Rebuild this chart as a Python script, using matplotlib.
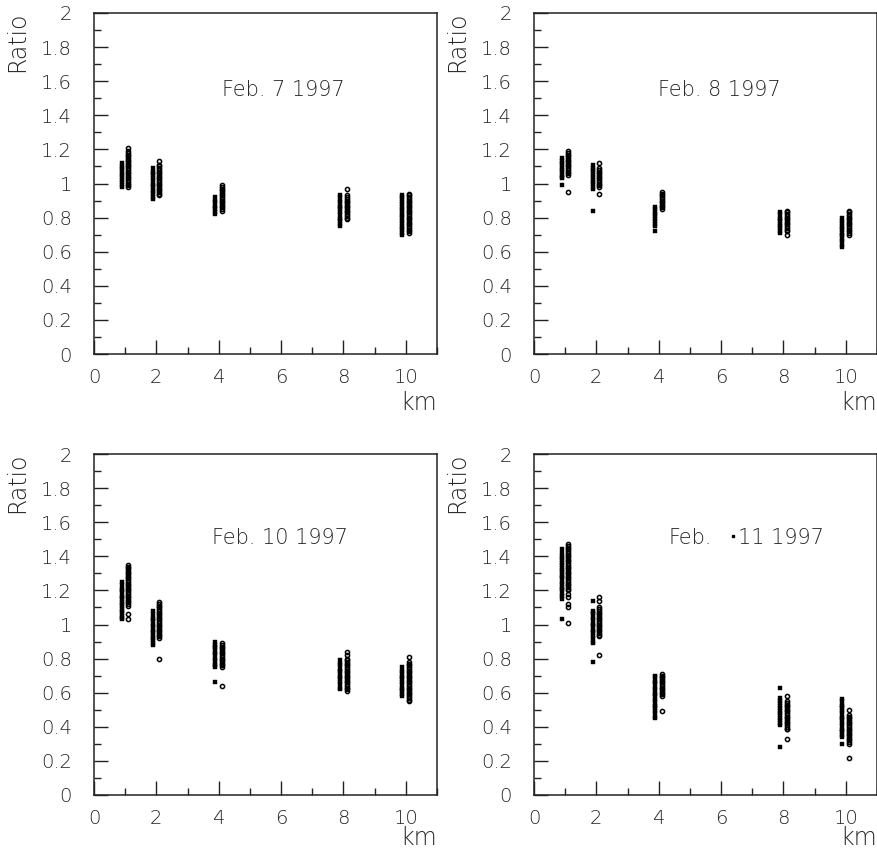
import matplotlib
matplotlib.use("Agg")
import matplotlib.pyplot as plt
from matplotlib.ticker import MultipleLocator

plt.rcParams['font.family'] = ['DejaVu Sans']
plt.rcParams['font.weight'] = 'light'

# ---------------- data ----------------
distances = [1, 2, 4, 8, 10]
dates = ["Feb. 7 1997", "Feb. 8 1997", "Feb. 10 1997", "Feb."]
date_extra = "11 1997"
xticks = [0, 2, 4, 6, 8, 10]
xtick_labels = ["0", "2", "4", "6", "8", "10"]
yticks = [0, 0.2, 0.4, 0.6, 0.8, 1.0, 1.2, 1.4, 1.6, 1.8, 2.0]
ytick_labels = ["0", "0.2", "0.4", "0.6", "0.8", "1", "1.2", "1.4", "1.6", "1.8", "2"]

# square-marker series (one list per distance)
feb7_sq = [
    [0.98, 0.99, 1.01, 1.02, 1.04, 1.05, 1.06, 1.08, 1.09, 1.10, 1.12],
    [0.91, 0.92, 0.94, 0.95, 0.96, 0.98, 0.99, 1.00, 1.02, 1.03, 1.05, 1.06, 1.07, 1.09],
    [0.82, 0.83, 0.85, 0.86, 0.87, 0.89, 0.90, 0.92],
    [0.75, 0.76, 0.78, 0.79, 0.80, 0.82, 0.83, 0.85, 0.86, 0.87, 0.89, 0.90, 0.92, 0.93],
    [0.70, 0.71, 0.73, 0.74, 0.75, 0.77, 0.78, 0.80, 0.81, 0.82, 0.84, 0.85, 0.86, 0.88,
     0.89, 0.91, 0.92, 0.93],
]
feb7_ci = [
    [0.98, 0.99, 1.00, 1.01, 1.02, 1.03, 1.04, 1.05, 1.06, 1.07, 1.08, 1.09, 1.10, 1.11,
     1.12, 1.13, 1.14, 1.15, 1.16, 1.17, 1.18, 1.19, 1.21],
    [0.93, 0.94, 0.95, 0.96, 0.97, 0.98, 0.99, 1.00, 1.01, 1.02, 1.03, 1.04, 1.05, 1.06,
     1.07, 1.08, 1.09, 1.10, 1.11, 1.13],
    [0.84, 0.85, 0.86, 0.87, 0.88, 0.89, 0.90, 0.91, 0.92, 0.93, 0.94, 0.95, 0.96, 0.97,
     0.98, 0.99],
    [0.79, 0.80, 0.81, 0.82, 0.83, 0.84, 0.85, 0.86, 0.87, 0.88, 0.89, 0.90, 0.91, 0.92,
     0.93, 0.97],
    [0.71, 0.72, 0.73, 0.74, 0.75, 0.76, 0.77, 0.78, 0.79, 0.80, 0.81, 0.82, 0.83, 0.84,
     0.85, 0.86, 0.87, 0.88, 0.89, 0.90, 0.91, 0.92, 0.93, 0.94],
]
feb8_sq = [
    [0.99, 1.03, 1.04, 1.05, 1.07, 1.08, 1.09, 1.11, 1.12, 1.13, 1.15],
    [0.84, 0.97, 0.98, 1.00, 1.01, 1.02, 1.04, 1.05, 1.07, 1.08, 1.09, 1.11],
    [0.72, 0.75, 0.76, 0.78, 0.79, 0.81, 0.82, 0.83, 0.85, 0.86],
    [0.71, 0.72, 0.74, 0.75, 0.76, 0.78, 0.79, 0.80, 0.82, 0.83],
    [0.63, 0.64, 0.66, 0.67, 0.69, 0.70, 0.71, 0.73, 0.74, 0.75, 0.77, 0.78, 0.80],
]
feb8_ci = [
    [0.95, 1.05, 1.06, 1.07, 1.08, 1.09, 1.10, 1.11, 1.12, 1.13, 1.14, 1.15, 1.16, 1.17,
     1.18, 1.19],
    [0.94, 0.98, 0.99, 1.00, 1.01, 1.02, 1.03, 1.04, 1.05, 1.06, 1.07, 1.08, 1.09, 1.12],
    [0.85, 0.86, 0.87, 0.88, 0.89, 0.90, 0.91, 0.92, 0.93, 0.94, 0.95],
    [0.70, 0.72, 0.73, 0.74, 0.75, 0.76, 0.77, 0.78, 0.79, 0.80, 0.81, 0.82, 0.83, 0.84],
    [0.70, 0.71, 0.72, 0.73, 0.74, 0.75, 0.76, 0.77, 0.78, 0.79, 0.80, 0.81, 0.82, 0.83,
     0.84],
]
feb10_sq = [
    [1.03, 1.04, 1.05, 1.07, 1.08, 1.09, 1.11, 1.12, 1.13, 1.15, 1.16, 1.17, 1.19, 1.20,
     1.21, 1.23, 1.25],
    [0.88, 0.89, 0.91, 0.92, 0.93, 0.95, 0.96, 0.97, 0.99, 1.00, 1.02, 1.03, 1.04, 1.06, 1.08],
    [0.66, 0.75, 0.76, 0.77, 0.79, 0.80, 0.82, 0.83, 0.84, 0.86, 0.87, 0.88, 0.90],
    [0.62, 0.63, 0.65, 0.66, 0.68, 0.69, 0.70, 0.72, 0.73, 0.74, 0.76, 0.77, 0.79],
    [0.58, 0.59, 0.61, 0.62, 0.63, 0.65, 0.66, 0.68, 0.69, 0.70, 0.72, 0.73, 0.75],
]
feb10_ci = [
    [1.03, 1.06, 1.11, 1.12, 1.13, 1.14, 1.15, 1.16, 1.17, 1.18, 1.19, 1.20, 1.21, 1.22,
     1.23, 1.24, 1.25, 1.26, 1.27, 1.28, 1.29, 1.30, 1.31, 1.32, 1.33, 1.34, 1.35],
    [0.80, 0.92, 0.93, 0.94, 0.95, 0.96, 0.97, 0.98, 0.99, 1.00, 1.01, 1.02, 1.03, 1.04,
     1.05, 1.06, 1.07, 1.08, 1.09, 1.10, 1.11, 1.12, 1.13],
    [0.64, 0.75, 0.76, 0.77, 0.78, 0.79, 0.80, 0.81, 0.82, 0.83, 0.84, 0.85, 0.86, 0.87,
     0.88, 0.89],
    [0.61, 0.62, 0.63, 0.64, 0.65, 0.66, 0.67, 0.68, 0.69, 0.70, 0.71, 0.72, 0.73, 0.74,
     0.75, 0.76, 0.77, 0.78, 0.79, 0.80, 0.82, 0.84],
    [0.55, 0.56, 0.57, 0.58, 0.59, 0.60, 0.61, 0.62, 0.63, 0.64, 0.65, 0.66, 0.67, 0.68,
     0.69, 0.70, 0.71, 0.72, 0.73, 0.74, 0.75, 0.76, 0.77, 0.78, 0.81],
]
feb11_sq = [
    [1.03, 1.15, 1.17, 1.18, 1.20, 1.21, 1.22, 1.24, 1.25, 1.27, 1.28, 1.29, 1.31, 1.32,
     1.33, 1.35, 1.36, 1.38, 1.39, 1.40, 1.42, 1.44],
    [0.78, 0.89, 0.90, 0.92, 0.93, 0.95, 0.96, 0.97, 0.99, 1.00, 1.01, 1.03, 1.04, 1.06,
     1.07, 1.08, 1.14],
    [0.45, 0.46, 0.48, 0.49, 0.51, 0.52, 0.53, 0.55, 0.56, 0.58, 0.59, 0.60, 0.62, 0.63,
     0.65, 0.66, 0.67, 0.69, 0.70],
    [0.28, 0.41, 0.42, 0.44, 0.45, 0.47, 0.48, 0.49, 0.51, 0.52, 0.54, 0.55, 0.57, 0.63],
    [0.30, 0.34, 0.35, 0.37, 0.38, 0.39, 0.41, 0.42, 0.44, 0.45, 0.46, 0.48, 0.49, 0.51,
     0.52, 0.53, 0.55, 0.565],
]
feb11_ci = [
    [1.01, 1.10, 1.12, 1.16, 1.18, 1.20, 1.21, 1.22, 1.23, 1.24, 1.25, 1.26, 1.27, 1.28,
     1.29, 1.30, 1.31, 1.32, 1.33, 1.34, 1.35, 1.36, 1.37, 1.38, 1.39, 1.40, 1.41, 1.42,
     1.43, 1.44, 1.45, 1.46, 1.47],
    [0.82, 0.93, 0.94, 0.95, 0.96, 0.97, 0.98, 0.99, 1.00, 1.01, 1.02, 1.03, 1.04, 1.05,
     1.06, 1.07, 1.08, 1.09, 1.10, 1.14, 1.16],
    [0.49, 0.58, 0.59, 0.60, 0.61, 0.62, 0.63, 0.64, 0.65, 0.66, 0.67, 0.68, 0.69, 0.70,
     0.71],
    [0.33, 0.385, 0.39, 0.40, 0.41, 0.42, 0.43, 0.44, 0.45, 0.46, 0.47, 0.48, 0.49, 0.50,
     0.51, 0.52, 0.53, 0.54, 0.55, 0.58],
    [0.215, 0.30, 0.31, 0.32, 0.33, 0.34, 0.35, 0.36, 0.37, 0.38, 0.39, 0.40, 0.41, 0.42,
     0.43, 0.44, 0.45, 0.46, 0.47, 0.50],
]
# stray point in the Feb. 11 panel
feb11_stray_x = [6.38]
feb11_stray_y = [1.52]

squares = [feb7_sq, feb8_sq, feb10_sq, feb11_sq]
circles = [feb7_ci, feb8_ci, feb10_ci, feb11_ci]

# ---------------- layout ----------------
W, H = 877, 852
fig = plt.figure(figsize=(W / 100, H / 100), dpi=100)
fig.patch.set_facecolor("white")

ax_w = 343 / W
ax_h = 341 / H
positions = [
    (94 / W, 1 - 354 / H),
    (534 / W, 1 - 354 / H),
    (94 / W, 1 - 795 / H),
    (534 / W, 1 - 795 / H),
]
text_pos = [(4.1, 1.55), (3.97, 1.55), (3.78, 1.51), (4.3, 1.51)]
extra_pos = (6.55, 1.51)
km_y = [-0.145, -0.145, -0.125, -0.125]

sq_off = -0.11
ci_off = 0.10
TXT = "#262626"

for i in range(4):
    ax = fig.add_axes([positions[i][0], positions[i][1], ax_w, ax_h])
    for j, d in enumerate(distances):
        ys = squares[i][j]
        ax.plot([d + sq_off] * len(ys), ys, linestyle="none", marker="s",
                markersize=2.3, markerfacecolor="black", markeredgecolor="black",
                markeredgewidth=0.3)
        yc = circles[i][j]
        ax.plot([d + ci_off] * len(yc), yc, linestyle="none", marker="o",
                markersize=3.0, markerfacecolor="none", markeredgecolor="black",
                markeredgewidth=1.1)
    if i == 3:
        ax.plot(feb11_stray_x, feb11_stray_y, linestyle="none", marker="s",
                markersize=1.6, color="black")

    ax.set_xlim(0, 11)
    ax.set_ylim(0, 2)
    ax.set_xticks(xticks)
    ax.set_xticklabels(xtick_labels)
    ax.set_yticks(yticks)
    ax.set_yticklabels(ytick_labels)
    ax.xaxis.set_minor_locator(MultipleLocator(1))
    ax.yaxis.set_minor_locator(MultipleLocator(0.1))
    ax.tick_params(axis="both", which="both", direction="in", top=False, right=False,
                   colors="#222222", labelcolor=TXT)
    ax.tick_params(axis="both", which="major", length=10, width=1.0, labelsize=14)
    ax.tick_params(axis="both", which="minor", length=5, width=1.0)
    ax.tick_params(axis="x", which="major", pad=10)
    ax.tick_params(axis="y", which="major", pad=16)
    for s in ax.spines.values():
        s.set_linewidth(1.1)
        s.set_color("#222222")

    ax.text(text_pos[i][0], text_pos[i][1], dates[i], fontsize=15, color=TXT,
            ha="left", va="center")
    if i == 3:
        ax.text(extra_pos[0], extra_pos[1], date_extra, fontsize=15, color=TXT,
                ha="left", va="center")
    ax.text(-0.225, 1.003, "Ratio", transform=ax.transAxes, rotation=90, fontsize=17,
            ha="center", va="top", color=TXT)
    ax.text(1.0, km_y[i], "km", transform=ax.transAxes, fontsize=17, ha="right",
            va="center", color=TXT)

fig.savefig("out.png", dpi=100, facecolor="white")
